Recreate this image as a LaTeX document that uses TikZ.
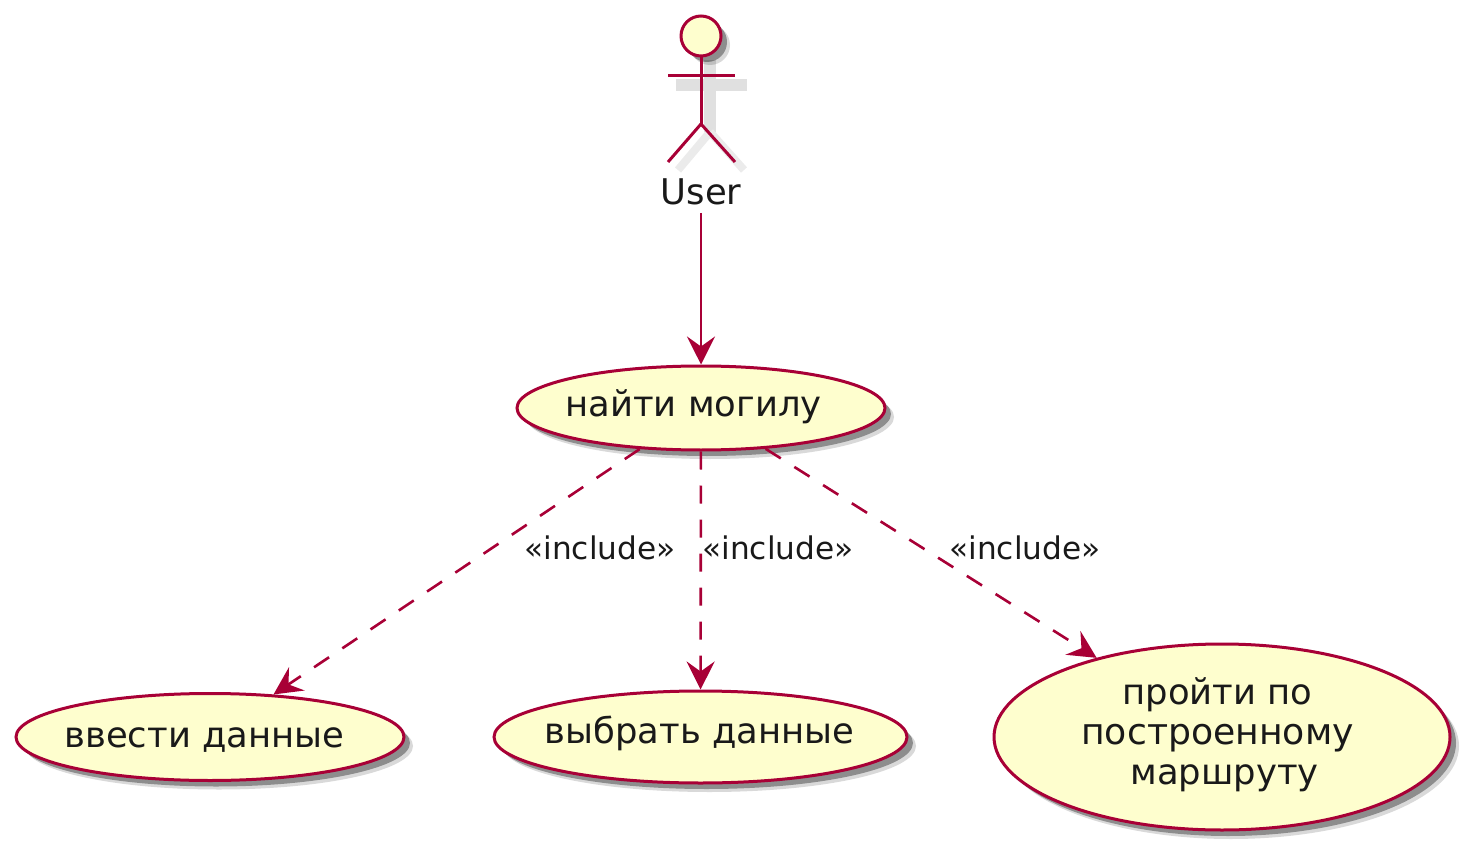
\documentclass[tikz,border=0pt]{standalone}
\usepackage{fontspec}
\setmainfont{DejaVu Sans}
\usetikzlibrary{arrows.meta, shapes.geometric, shadows}
\definecolor{umlred}{HTML}{A80036}
\definecolor{umlfill}{HTML}{FEFECE}
% text in an ellipse: sideways shift, baseline height, text
\newcommand{\uctext}[3]{\raisebox{#2}[0pt][0pt]{\makebox[0pt]{\hspace*{#1}#3}}}

\begin{document}
\begin{tikzpicture}[x=0.5pt, y=-0.5pt,
    softshade/.style={drop shadow={shadow xshift=4.5pt, shadow yshift=-4.5pt, fill=black, opacity=.15},
      drop shadow={shadow xshift=3pt, shadow yshift=-3pt, fill=black, opacity=.35}},
    usecase/.style={ellipse, draw=umlred, fill=umlfill, line width=1.5pt, inner sep=0pt,
      text=black!90, font=\fontsize{17.7}{20}\selectfont, softshade},
    incl/.style={text=black!90, font=\fontsize{15.6}{18}\selectfont, inner sep=0pt},
    flow/.style={draw=umlred, line width=1.3pt, -{Stealth[length=14pt, width=14pt, inset=5pt]}},
    limb/.style={draw=umlred, line width=1.5pt},
    limbshade/.style={draw=black!12, line width=6pt}]
  \useasboundingbox (0,0) rectangle (1476,855);

  % actor
  \coordinate (hip) at (701,124);
  \draw[limbshade] (676,85) -- (747,85);
  \draw[limbshade] (710,60) -- (710,132);
  \draw[limbshade, draw=black!8, line width=4pt] (710,132) -- (678,170);
  \draw[limbshade, draw=black!8, line width=4pt] (710,132) -- (744,170);
  \node[circle, draw=umlred, fill=umlfill, line width=1.5pt, minimum size=20pt, inner sep=0pt,
    softshade] (head) at (701,36) {};
  \draw[limb] (head) -- (hip);
  \draw[limb] (668,76) -- (735,76);
  \draw[limb] (hip) -- (668,162);
  \draw[limb] (hip) -- (735,162);
  \node[font=\fontsize{17.7}{20}\selectfont, text=black!90, inner sep=0pt] (User) at (701,192) {User};
  \coordinate (userout) at (701,213);

  % use cases
  \node[usecase, minimum width=184pt, minimum height=42pt] (find) at (701,408)
    {\uctext{-7.5pt}{-4.5pt}{найти могилу}};
  \node[usecase, minimum width=194pt, minimum height=43.5pt] (enter) at (210,737)
    {\uctext{-5.5pt}{-5pt}{ввести данные}};
  \node[usecase, minimum width=206.5pt, minimum height=46pt] (pick) at (700.5,737)
    {\uctext{-1pt}{-3pt}{выбрать данные}};
  \node[usecase, minimum width=228pt, minimum height=93pt] (walk) at (1222,737)
    {\uctext{-4.5pt}{-4pt}{\begin{tabular}{@{}c@{}}пройти по\\\fontsize{18.1}{20}\selectfont построенному\\\hspace*{7pt}маршруту\end{tabular}}};

  \draw[flow] (userout) -- (find);
  \draw[flow, dashed, dash pattern=on 9pt off 8pt] (find) -- (enter);
  \draw[flow, dashed, dash pattern=on 9pt off 8pt] (find) -- (pick);
  \draw[flow, dashed, dash pattern=on 9pt off 8pt] (find) -- (walk);

  \node[incl] (inclA) at (600,548) {«include»};
  \node[incl] (inclB) at (778,548) {«include»};
  \node[incl] (inclC) at (1025,548) {«include»};
\end{tikzpicture}
\end{document}
